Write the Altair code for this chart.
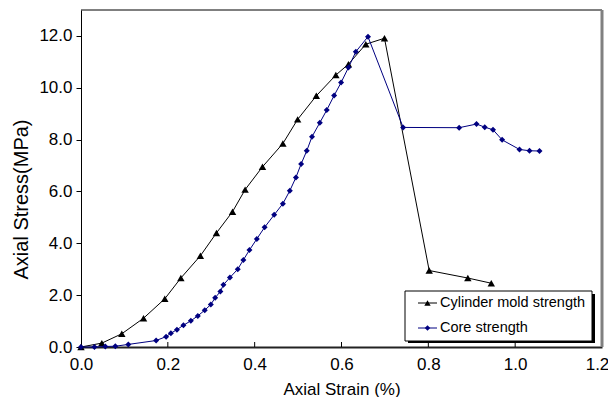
import altair as alt
import pandas as pd

# ---- data ----
series_names = ["Cylinder mold strength", "Core strength"]

cyl_strain = [0.0, 0.048, 0.094, 0.144, 0.193, 0.230, 0.275, 0.312, 0.349, 0.378, 0.418,
              0.465, 0.499, 0.542, 0.587, 0.616, 0.656, 0.699, 0.802, 0.891, 0.945]
cyl_stress = [0.0, 0.15, 0.51, 1.11, 1.86, 2.66, 3.52, 4.40, 5.22, 6.07, 6.95,
              7.85, 8.78, 9.69, 10.49, 10.91, 11.68, 11.91, 2.95, 2.66, 2.46]

core_strain = [0.0, 0.031, 0.056, 0.079, 0.109, 0.173, 0.196, 0.207, 0.221, 0.236, 0.253,
               0.269, 0.285, 0.299, 0.309, 0.321, 0.328, 0.343, 0.361, 0.374, 0.388, 0.405,
               0.423, 0.445, 0.465, 0.481, 0.495, 0.507, 0.520, 0.532, 0.550, 0.566, 0.583,
               0.599, 0.616, 0.633, 0.661, 0.742, 0.871, 0.911, 0.930, 0.949, 0.970, 1.010,
               1.033, 1.056]
core_stress = [0.0, 0.0, 0.02, 0.03, 0.10, 0.25, 0.40, 0.53, 0.67, 0.84, 1.01,
               1.20, 1.42, 1.64, 1.90, 2.14, 2.40, 2.68, 3.00, 3.36, 3.74, 4.17,
               4.62, 5.10, 5.53, 6.03, 6.54, 7.06, 7.57, 8.11, 8.65, 9.14, 9.70,
               10.20, 10.78, 11.39, 11.97, 8.47, 8.46, 8.60, 8.48, 8.38, 7.99, 7.62,
               7.57, 7.56]

x_ticks = [0.0, 0.2, 0.4, 0.6, 0.8, 1.0, 1.2]
y_ticks = [0, 2, 4, 6, 8, 10, 12]

FONT = "Liberation Sans"
W, H = 521, 337

cyl = pd.DataFrame({"strain": cyl_strain, "stress": cyl_stress, "i": range(len(cyl_strain))})
core = pd.DataFrame({"strain": core_strain, "stress": core_stress, "i": range(len(core_strain))})

xs = alt.X("strain:Q", title="Axial Strain (%)",
           scale=alt.Scale(domain=[0, 1.2], nice=False, zero=False),
           axis=alt.Axis(values=x_ticks, format=".1f", tickSize=0, labelPadding=9,
                         labelFlush=False, labelOverlap=False,
                         labelOffset={"condition": {"test": "datum.value > 1.1", "value": -5},
                                      "value": 0},
                         labelFontSize=17, titleFontSize=17, titlePadding=9,
                         domainWidth=2, domainColor="#222222", grid=False))
ys = alt.Y("stress:Q", title="Axial Stress(MPa)",
           scale=alt.Scale(domain=[0, 13], nice=False),
           axis=alt.Axis(values=y_ticks, format=".1f", tickSize=5, labelPadding=4,
                         labelFlush=False, labelOverlap=False,
                         labelFontSize=17, titleFontSize=20, titlePadding=7,
                         titleY=189, titleAnchor="middle", titleAlign="center",
                         domainColor="black", tickColor="black", grid=False))

def series(df, color, shape, size):
    line = alt.Chart(df).mark_line(color=color, strokeWidth=1).encode(x=xs, y=ys, order="i:Q")
    pts = alt.Chart(df).mark_point(color=color, shape=shape, size=size, filled=True,
                                   opacity=1).encode(x=xs, y=ys)
    return line + pts

cyl_layer = series(cyl, "black", "triangle-up", 55)
core_layer = series(core, "#000080", "diamond", 36)

# inward x ticks
tick_df = pd.DataFrame({"strain": x_ticks[1:]})
xtick_layer = alt.Chart(tick_df).mark_rule(color="black", strokeWidth=1).encode(
    x=xs, y=alt.value(H), y2=alt.value(H - 5))

one = pd.DataFrame({"a": [0]})
# frame: top black, right gray
top_border = alt.Chart(one).mark_rule(color="black", strokeWidth=1).encode(
    x=alt.value(0), x2=alt.value(W), y=alt.value(0))
right_border = alt.Chart(one).mark_rule(color="#808080", strokeWidth=3).encode(
    x=alt.value(W), y=alt.value(0), y2=alt.value(H))

# legend (manual)
LX0, LX1, LY0, LY1 = 324, 511, 281, 331
shadow = alt.Chart(one).mark_rect(color="black").encode(
    x=alt.value(LX0 + 3), x2=alt.value(LX1 + 3), y=alt.value(LY0 + 3), y2=alt.value(LY1 + 2))
box = alt.Chart(one).mark_rect(fill="white", stroke="black", strokeWidth=1).encode(
    x=alt.value(LX0), x2=alt.value(LX1), y=alt.value(LY0), y2=alt.value(LY1))

legend_layers = []
for name, color, shape, size, yy in [
    (series_names[0], "black", "triangle-up", 40, 293),
    (series_names[1], "#000080", "diamond", 30, 318),
]:
    d = pd.DataFrame({"name": [name]})
    legend_layers.append(alt.Chart(d).mark_rule(color=color, strokeWidth=1).encode(
        x=alt.value(337), x2=alt.value(356), y=alt.value(yy)))
    legend_layers.append(alt.Chart(d).mark_point(color=color, shape=shape, size=size,
                                                  filled=True, opacity=1).encode(
        x=alt.value(346.5), y=alt.value(yy)))
    legend_layers.append(alt.Chart(d).mark_text(align="left", baseline="middle",
                                                 font=FONT, fontSize=14.5, color="black").encode(
        x=alt.value(359), y=alt.value(yy), text="name:N"))

chart = alt.layer(
    cyl_layer, core_layer, xtick_layer, top_border, right_border,
    shadow, box, *legend_layers
).properties(
    width=W, height=H,
    autosize=alt.AutoSizeParams(type="none"),
    padding={"left": 73, "top": 2, "right": 6, "bottom": 50},
).configure_view(
    stroke=None
).configure_axis(
    labelFont=FONT, titleFont=FONT, labelColor="black", titleColor="black",
    titleFontWeight="normal"
)

chart.save("out.html", embed_options={"renderer": "svg", "actions": False})
